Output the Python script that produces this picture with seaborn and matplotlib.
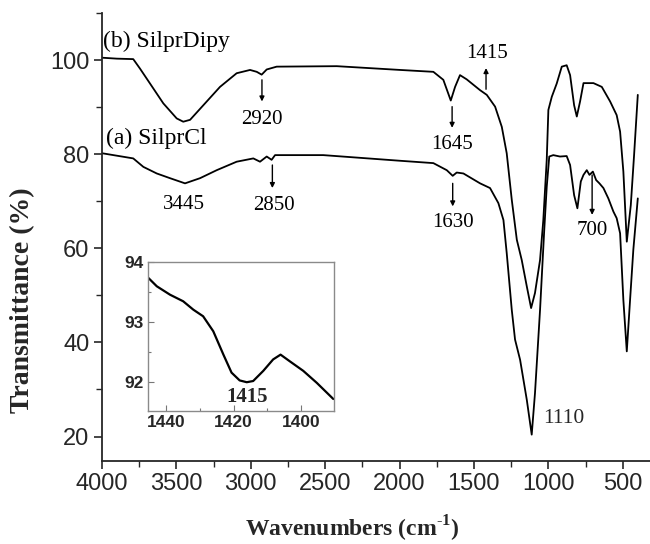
import numpy as np
import pandas as pd
import matplotlib
matplotlib.use("Agg")
import matplotlib.pyplot as plt
import seaborn as sns
from matplotlib.ticker import MultipleLocator

# ---- data ----
b_wn = [4000, 3900, 3790, 3745, 3677, 3588, 3498, 3454, 3408, 3319, 3207, 3095, 3005, 2960, 2927,
        2893, 2826, 2422, 1997, 1773, 1706, 1656, 1627, 1594, 1549, 1459, 1414, 1358, 1313, 1280,
        1246, 1212, 1179, 1145, 1116, 1090, 1056, 1034, 1011, 1000, 977, 944, 910, 877, 854, 827,
        809, 787, 764, 697, 641, 585, 541, 518, 496, 473, 446, 424, 399]
b_T = [100.5, 100.3, 100.2, 98.2, 95.0, 90.8, 87.6, 86.9, 87.3, 90.4, 94.3, 97.2, 97.9, 97.5, 96.9,
       98.0, 98.6, 98.7, 97.9, 97.5, 95.8, 91.4, 94.3, 96.8, 95.9, 93.6, 92.6, 90.1, 85.8, 80.2,
       70.3, 61.8, 57.5, 51.9, 47.3, 50.5, 57.5, 66.0, 78.8, 89.4, 92.2, 95.0, 98.6, 98.9, 96.8, 90.4,
       88.0, 91.2, 95.1, 95.1, 94.3, 91.2, 88.3, 84.8, 76.3, 61.4, 69.2, 79.8, 92.6]

a_wn = [4000, 3790, 3722, 3632, 3543, 3442, 3341, 3229, 3095, 2983, 2938, 2893, 2860, 2837, 2513,
        1997, 1773, 1683, 1643, 1616, 1571, 1459, 1392, 1336, 1302, 1280, 1246, 1224, 1190, 1145,
        1112, 1090, 1056, 1029, 1011, 994, 967, 922, 877, 854, 827, 805, 782, 764, 742, 724, 701,
        679, 657, 630, 597, 563, 541, 518, 496, 473, 451, 429, 399]
a_T = [80.2, 79.1, 77.3, 75.9, 74.9, 73.8, 74.9, 76.6, 78.4, 79.1, 78.4, 79.5, 78.8, 79.8, 79.8,
       78.6, 78.1, 76.6, 75.4, 76.1, 75.9, 73.8, 72.8, 69.6, 66.0, 59.0, 46.9, 40.6, 36.3, 27.8,
       20.4, 29.2, 46.9, 63.2, 73.1, 79.5, 79.8, 79.5, 79.6, 77.7, 71.3, 68.5, 74.2, 75.6, 76.6, 75.6,
       76.3, 74.5, 73.8, 72.8, 70.6, 67.8, 66.4, 63.2, 49.0, 38.1, 49.0, 59.7, 70.6]

inset_wn = [1445.2, 1442.7, 1438.8, 1434.9, 1431.9, 1429.0, 1426.0, 1423.0, 1420.6, 1418.2, 1416.1,
            1414.2, 1411.2, 1408.3, 1406.1, 1403.4, 1399.4, 1395.4, 1390.5]
inset_T = [93.74, 93.60, 93.46, 93.35, 93.21, 93.10, 92.85, 92.46, 92.16, 92.03, 92.00,
           92.02, 92.19, 92.38, 92.46, 92.35, 92.19, 91.99, 91.72]

x_ticks = [4000, 3500, 3000, 2500, 2000, 1500, 1000, 500]
y_ticks = [20, 40, 60, 80, 100]
inset_xticks = [1440, 1420, 1400]
inset_yticks = [92, 93, 94]

series_labels = ["(b) SilprDipy", "(a) SilprCl"]

sns.set_style("ticks")
serif = ["Liberation Serif", "DejaVu Serif"]
sans = ["Liberation Sans", "DejaVu Sans"]
plt.rcParams["font.family"] = sans
plt.rcParams["mathtext.fontset"] = "custom"
plt.rcParams["mathtext.rm"] = "Liberation Serif"
plt.rcParams["mathtext.bf"] = "Liberation Serif:bold"

fig = plt.figure(figsize=(6.5, 5.44), dpi=100)
ax = fig.add_axes([102/650, 1-461/544, 548/650, 448/544])

df_b = pd.DataFrame({"wn": b_wn, "T": b_T})
df_a = pd.DataFrame({"wn": a_wn, "T": a_T})
sns.lineplot(data=df_b, x="wn", y="T", ax=ax, color="black", lw=1.3, sort=False, estimator=None)
sns.lineplot(data=df_a, x="wn", y="T", ax=ax, color="black", lw=1.3, sort=False, estimator=None)

ax.set_xlim(4000, 317)
ax.set_ylim(14.8, 110)
ax.set_xticks(x_ticks)
ax.set_yticks(y_ticks)
ax.xaxis.set_minor_locator(MultipleLocator(250))
ax.yaxis.set_minor_locator(MultipleLocator(10))
ax.tick_params(axis="both", which="major", direction="out", length=6, width=1.2, labelsize=17, pad=3)
ax.tick_params(axis="both", which="minor", direction="out", length=4, width=1.0)
for s in ["top", "right"]:
    ax.spines[s].set_visible(False)
for s in ["left", "bottom"]:
    ax.spines[s].set_linewidth(1.3)

ax.set_xlabel(r"Wavenumbers (cm$^{\mathbf{\text{-}1}}$)", fontsize=17, fontweight="bold", family=serif)
ax.set_ylabel("Transmittance (%)", fontsize=20, fontweight="bold", family=serif)
ax.xaxis.label.set_va("center")
ax.yaxis.label.set_va("center")
ax.xaxis.set_label_coords(0.456, -0.152)
ax.yaxis.set_label_coords(-0.144, 0.36)

txt = dict(family=serif, fontsize=17, color="black")
num = dict(family=serif, fontsize=15, color="black", ha="center", va="center")
ax.text(3990, 104.0, series_labels[0], ha="left", va="center", **txt)
ax.text(3970, 83.4, series_labels[1], ha="left", va="center", **txt)

arr = dict(arrowstyle="-|>", lw=1.0, color="black", mutation_scale=7, shrinkA=0, shrinkB=0)
ax.annotate("", xy=(2925, 91.2), xytext=(2925, 95.8), arrowprops=arr)
ax.text(2925, 87.4, "2920", **num)
ax.annotate("", xy=(2855, 72.8), xytext=(2855, 77.7), arrowprops=arr)
ax.text(2847, 69.2, "2850", **num)
ax.annotate("", xy=(1647, 85.6), xytext=(1647, 90.1), arrowprops=arr)
ax.text(1647, 82.0, "1645", **num)
ax.annotate("", xy=(1419, 98.3), xytext=(1419, 93.8), arrowprops=arr)
ax.text(1410, 101.5, "1415", **num)
ax.annotate("", xy=(1643, 68.9), xytext=(1643, 73.8), arrowprops=arr)
ax.text(1638, 65.5, "1630", **num)
ax.annotate("", xy=(706, 67.1), xytext=(706, 75.6), arrowprops=arr)
ax.text(702, 63.8, "700", **num)
ax.text(3449, 69.4, "3445", **num)
ax.text(1033, 23.9, "1110", family=serif, fontsize=15.5, ha="left", va="center")

# ---- inset ----
axi = fig.add_axes([148/650, 1-411/544, 186/650, 148.7/544])
df_i = pd.DataFrame({"wn": inset_wn, "T": inset_T})
sns.lineplot(data=df_i, x="wn", y="T", ax=axi, color="black", lw=1.6, sort=False, estimator=None)
axi.set_xlim(1445.3, 1390.3)
axi.set_ylim(91.52, 94.0)
axi.set_xticks(inset_xticks)
axi.set_yticks(inset_yticks)
axi.xaxis.set_minor_locator(MultipleLocator(10))
axi.yaxis.set_minor_locator(MultipleLocator(0.5))
axi.tick_params(axis="both", which="major", direction="in", length=4, width=0.8, labelsize=12.5,
                pad=3, color="#777777")
axi.tick_params(axis="both", which="minor", direction="in", length=2.5, width=0.8, color="#777777")
for lab in axi.get_xticklabels() + axi.get_yticklabels():
    lab.set_fontweight("bold")
for s in axi.spines.values():
    s.set_color("#8a8a8a")
    s.set_linewidth(1.0)
axi.set_xlabel("")
axi.set_ylabel("")
axi.text(1416.1, 91.75, "1415", family=serif, fontsize=15, fontweight="bold", ha="center", va="center")

fig.savefig("out.png", dpi=100)
